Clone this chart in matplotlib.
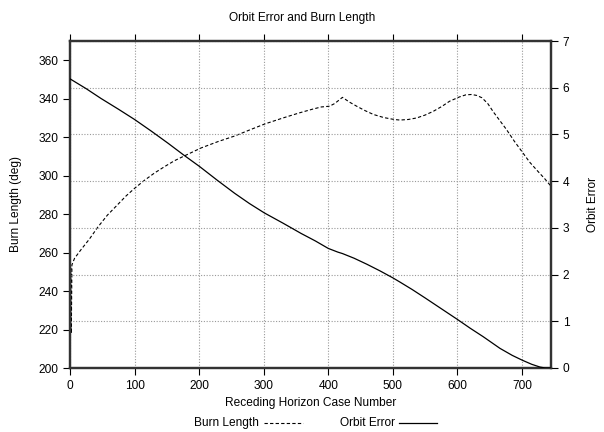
import matplotlib
matplotlib.use("Agg")
import matplotlib.pyplot as plt
from matplotlib.lines import Line2D

plt.rcParams['font.family'] = ['Liberation Sans', 'DejaVu Sans']
plt.rcParams['font.size'] = 8.6

# Burn length (left axis, degrees)
burn_x = [0, 1, 2, 3, 7, 17, 30, 43, 58, 74, 87, 100, 115, 131, 147, 162, 178, 203,
          230, 255, 280, 302, 330, 356, 375, 389, 402, 410, 422, 433, 444, 457, 470,
          486, 502, 511, 524, 537, 550, 563, 576, 588, 603, 613, 622, 630, 638, 647,
          656, 666, 676, 688, 700, 712, 724, 735, 745]
burn_y = [214, 252, 218, 253.6, 257, 261.5, 267, 273.2, 279.5, 285, 289.5, 293.4,
          297.5, 301.4, 304.8, 307.8, 310.4, 314.4, 317.8, 320.6, 324, 326.9, 330,
          332.7, 334.5, 335.7, 336.1, 337.5, 340.7, 338.2, 336.1, 333.8, 331.8, 330.2,
          329.2, 328.9, 329.2, 330, 331.5, 333.5, 336, 338.7, 340.9, 342, 342.2, 341.7,
          340.5, 337.5, 333, 328.5, 324, 318, 312.5, 307, 302.5, 298.5, 294.5]

# Orbit error (right axis)
orb_x = [0, 25, 48, 75, 100, 126, 152, 176, 201, 228, 255, 278, 301, 330, 358, 380,
         400, 415, 422, 440, 460, 480, 500, 511, 530, 550, 575, 600, 620, 640, 666,
         685, 700, 715, 728, 736, 745]
orb_y = [6.19, 5.98, 5.77, 5.54, 5.32, 5.07, 4.81, 4.56, 4.31, 4.02, 3.74, 3.52, 3.32,
         3.10, 2.88, 2.72, 2.56, 2.48, 2.45, 2.35, 2.22, 2.08, 1.93, 1.84, 1.68, 1.50,
         1.27, 1.04, 0.85, 0.67, 0.42, 0.27, 0.17, 0.08, 0.02, 0.0, 0.0]

xticks = [0, 100, 200, 300, 400, 500, 600, 700]
yticks_left = [200, 220, 240, 260, 280, 300, 320, 340, 360]
yticks_right = [0, 1, 2, 3, 4, 5, 6, 7]

fig = plt.figure(figsize=(6.04, 4.32), dpi=100)
ax = fig.add_axes([70/604, 64/432, 481/604, 327/432])
ax2 = ax.twinx()

ax.set_xlim(0, 745)
ax.set_ylim(200, 370)
ax2.set_ylim(0, 7)
ax.set_xticks(xticks)
ax.set_yticks(yticks_left)
ax2.set_yticks(yticks_right)

gridkw = dict(color='#999999', linestyle=(0, (1, 1.5)), linewidth=0.8)
ax.xaxis.grid(True, **gridkw)
ax2.yaxis.grid(True, **gridkw)
ax.set_axisbelow(True)

ax.plot(burn_x, burn_y, color='black', linewidth=0.8, linestyle=(0, (3, 2)), zorder=3)
ax2.plot(orb_x, orb_y, color='black', linewidth=0.9, zorder=3)

for a in (ax, ax2):
    for s in a.spines.values():
        s.set_linewidth(1.6)
        s.set_color('#333333')
    a.tick_params(direction='out', length=5, width=0.8, colors='black', labelsize=8.6)
ax.tick_params(top=True)

ax.set_xlabel('Receding Horizon Case Number', fontsize=8.6, labelpad=4)
ax.set_ylabel('Burn Length (deg)', fontsize=8.6, labelpad=12)
ax2.set_ylabel('Orbit Error', fontsize=8.6, labelpad=13)
fig.text(0.5, 1 - 18/432, 'Orbit Error and Burn Length', ha='center', va='center', fontsize=8.6)

# legend below (text then sample, gnuplot style)
ly = 1 - 423/432
fig.text(259/604, ly, 'Burn Length', ha='right', va='center', fontsize=8.6)
fig.add_artist(Line2D([264/604, 303/604], [ly, ly], color='black', linewidth=0.8,
                      linestyle=(0, (3, 2)), transform=fig.transFigure))
fig.text(395/604, ly, 'Orbit Error', ha='right', va='center', fontsize=8.6)
fig.add_artist(Line2D([399/604, 437/604], [ly, ly], color='black', linewidth=0.9,
                      transform=fig.transFigure))

fig.savefig('out.png', dpi=100)
